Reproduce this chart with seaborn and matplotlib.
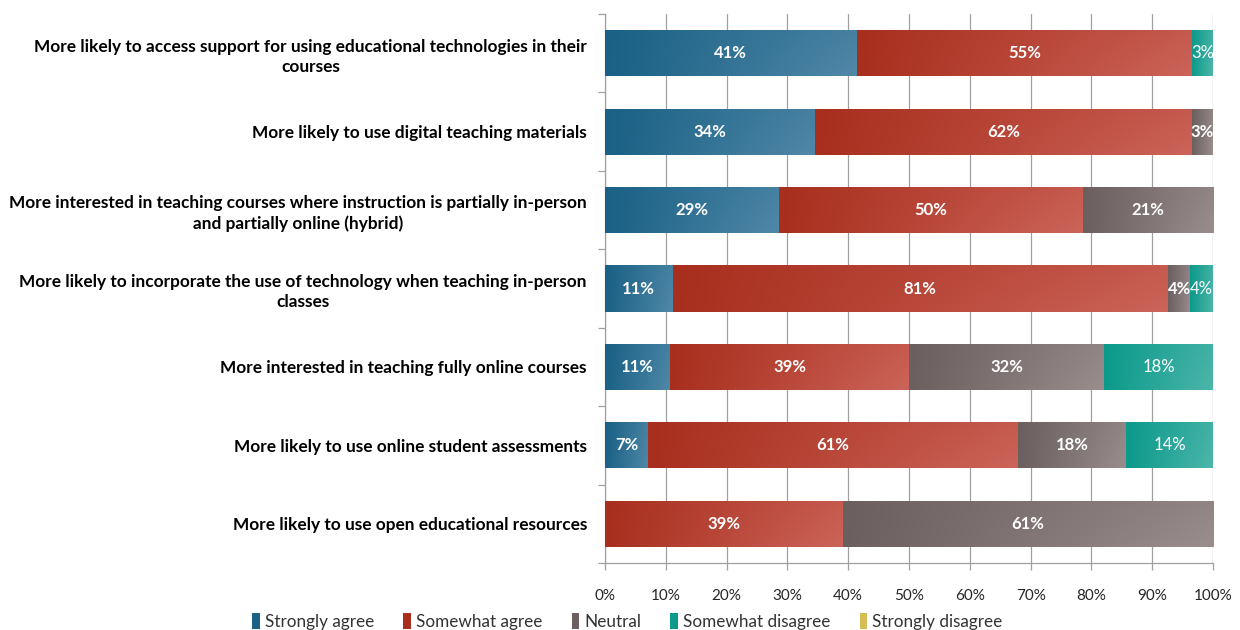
import numpy as np
import pandas as pd
import matplotlib
matplotlib.use("Agg")
import matplotlib.pyplot as plt
from matplotlib.colors import LinearSegmentedColormap
from matplotlib.patches import Patch
import seaborn as sns

# Survey statements (display labels, wrapped as shown on the axis)
categories = [
    "More likely to access support for using educational technologies in their\ncourses",
    "More likely to use digital teaching materials",
    "More interested in teaching courses where instruction is partially in-person\nand partially online (hybrid)",
    "More likely to incorporate the use of technology when teaching in-person\nclasses",
    "More interested in teaching fully online courses",
    "More likely to use online student assessments",
    "More likely to use open educational resources",
]

# Share of respondents (%) per response level
strongly_agree = [41.38, 34.48, 28.57, 11.11, 10.71, 7.14, 0.0]
somewhat_agree = [55.17, 62.07, 50.00, 81.48, 39.29, 60.71, 39.13]
neutral = [0.0, 3.45, 21.43, 3.70, 32.14, 17.86, 60.87]
somewhat_disagree = [3.45, 0.0, 0.0, 3.70, 17.86, 14.29, 0.0]
strongly_disagree = [0.0, 0.0, 0.0, 0.0, 0.0, 0.0, 0.0]

series_names = ["Strongly agree", "Somewhat agree", "Neutral",
                "Somewhat disagree", "Strongly disagree"]
series_values = [strongly_agree, somewhat_agree, neutral,
                 somewhat_disagree, strongly_disagree]

# (dark, light) ends of each segment's gradient
shades = {
    "Strongly agree": ("#1a6185", "#5088a8"),
    "Somewhat agree": ("#a82f1e", "#cc6459"),
    "Neutral": ("#6c5f5f", "#998d8d"),
    "Somewhat disagree": ("#0c9a8b", "#4cb6a9"),
    "Strongly disagree": ("#d6bd55", "#ead683"),
}

sns.set_style("white")
plt.rcParams["font.family"] = ["Lato", "DejaVu Sans"]

fig = plt.figure(figsize=(12.4, 6.3), dpi=100)
ax = fig.add_axes([605 / 1240, 1 - 563 / 630, 608 / 1240, 549 / 630])

df = pd.DataFrame({name: vals for name, vals in zip(series_names, series_values)})
df["category"] = categories
cum = np.zeros(len(categories))

for name in series_names:
    vals = df[name].to_numpy()
    dark, light = shades[name]
    sns.barplot(x=vals, y=df["category"], left=cum, color=dark, orient="h",
                width=0.59, saturation=1, ax=ax, linewidth=0, zorder=2)
    container = ax.containers[-1]
    cmap = LinearSegmentedColormap.from_list(name, [dark, light])
    for rect, v in zip(container.patches, vals):
        if v <= 0:
            continue
        x0, y0 = rect.get_x(), rect.get_y()
        w, h = rect.get_width(), rect.get_height()
        gx = np.linspace(0, 1, 80)[None, :]
        gy = np.linspace(0, 1, 20)[:, None]
        grad = 0.8 * gx + 0.2 * gx * gy
        img = ax.imshow(grad, cmap=cmap, vmin=0, vmax=1, aspect="auto",
                        extent=[x0, x0 + w, y0 + h, y0], interpolation="bilinear",
                        zorder=3)
        img.set_clip_path(rect)
        label = f"{v:.0f}%"
        weight = "normal" if name == "Somewhat disagree" else "bold"
        ax.text(x0 + w / 2, y0 + h / 2, label, ha="center", va="center",
                color="white", fontsize=12, fontweight=weight, zorder=4)
    cum = cum + vals

ax.set_xlim(0, 100)
ax.set_ylim(len(categories) - 0.5, -0.5)
ax.set_xticks(np.arange(0, 101, 10))
ax.set_xticklabels([f"{t}%" for t in range(0, 101, 10)], fontsize=11, color="#262626")
ax.set_yticks(range(len(categories)))
ax.set_yticklabels(categories, fontsize=12.4, fontweight="bold", color="black",
                   multialignment="center", linespacing=1.3)
ax.set_yticks(np.arange(-0.5, len(categories), 1), minor=True)
ax.set_xlabel("")
ax.set_ylabel("")

ax.xaxis.grid(True, color="#a0a0a0", linewidth=0.9, zorder=0)
ax.set_axisbelow(True)
ax.tick_params(axis="x", which="major", length=5, color="#a0a0a0", width=0.9,
               pad=14, direction="out", bottom=True)
ax.tick_params(axis="y", which="major", length=0, pad=13)
ax.tick_params(axis="y", which="minor", length=5, color="#a0a0a0", width=0.9,
               direction="out", left=True)
for side in ["top", "right"]:
    ax.spines[side].set_visible(False)
for side in ["left", "bottom"]:
    ax.spines[side].set_color("#a0a0a0")
    ax.spines[side].set_linewidth(0.9)

handles = [Patch(facecolor=shades[n][0], edgecolor="none", label=n) for n in series_names]
fig.legend(handles=handles, loc="lower center", bbox_to_anchor=(0.506, -0.024),
           ncol=5, frameon=False, fontsize=12.3, labelcolor="#333333",
           handlelength=0.45, handleheight=1.1, handletextpad=0.3, columnspacing=1.7)

fig.savefig("out.png", dpi=100)
